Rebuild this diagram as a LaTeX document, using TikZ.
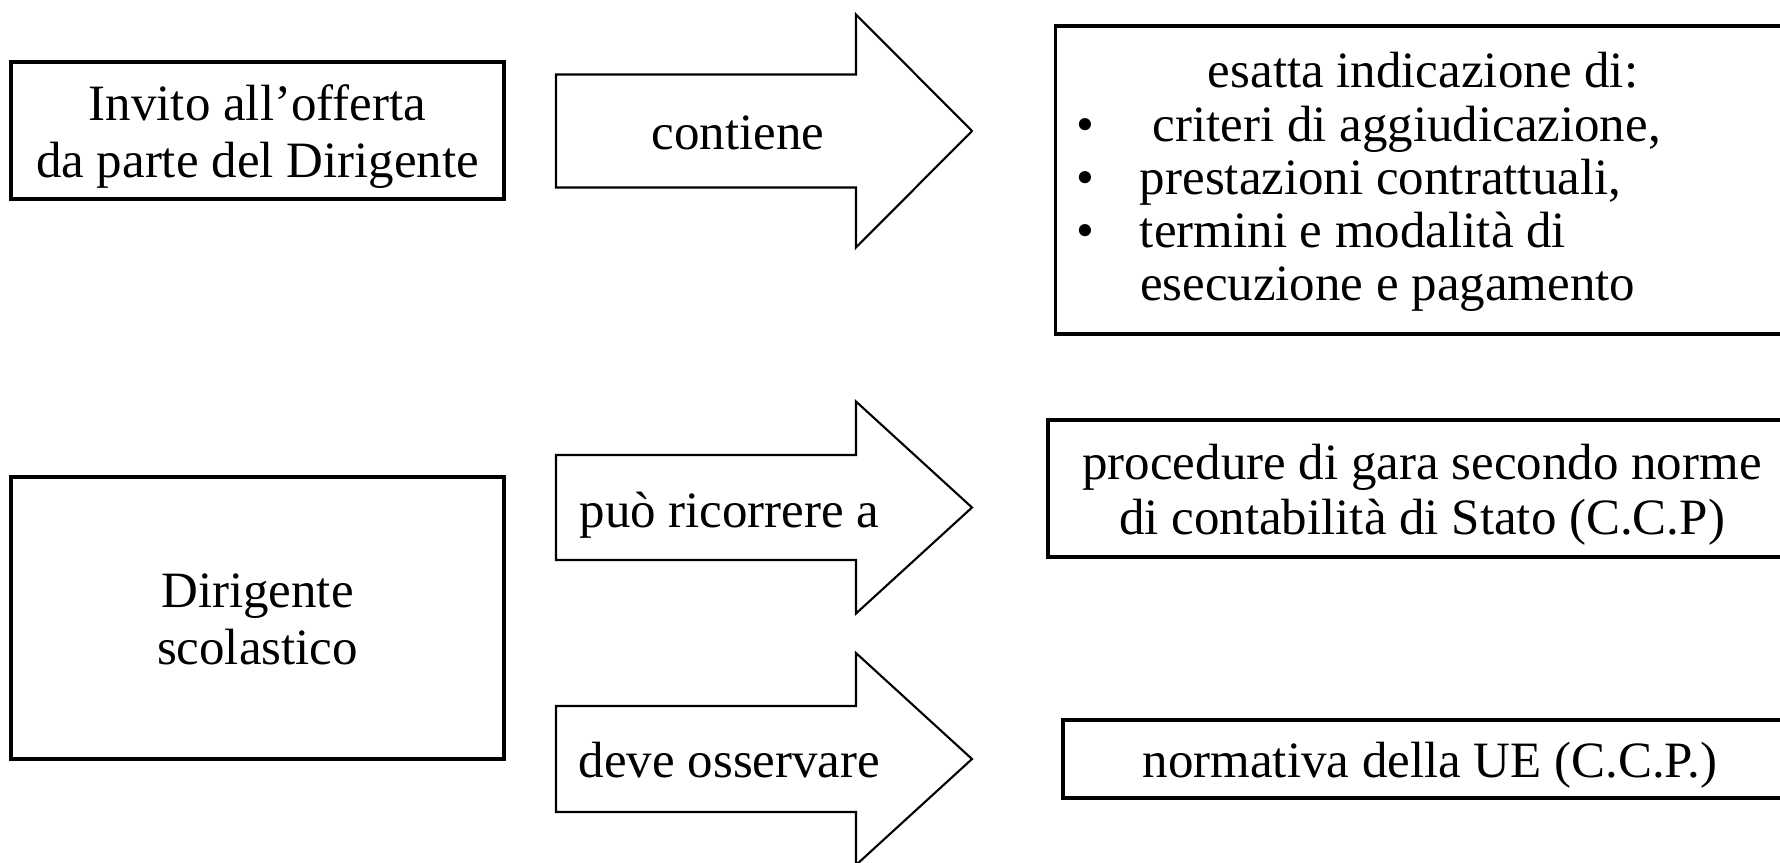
\documentclass[tikz,border=0pt]{standalone}
\usepackage{fontspec}
\setmainfont{Liberation Serif}
\usetikzlibrary{positioning}

\begin{document}
\begin{tikzpicture}[every node/.style={outer sep=0pt,font=\fontsize{14.5}{16.2}\selectfont}]
\tikzstyle{box}=[draw,line width=0.9pt,inner sep=0pt]
\tikzstyle{boxtext}=[align=center,inner sep=0pt,yshift=-0.06cm]
\tikzstyle{fat arrow}=[draw,line width=0.6pt,line join=miter]
\clip (0,0) rectangle (17.8,8.62);

% left column
\node (invito) [box,minimum width=4.93cm,minimum height=1.37cm] at (2.575,7.315) {};
\node (invito testo) [boxtext] at (invito) {Invito all’offerta\\da parte del Dirigente};

\node (dirigente) [box,minimum width=4.93cm,minimum height=2.82cm] at (2.575,2.44) {};
\node (dirigente testo) [boxtext,yshift=0.05cm] at (dirigente) {Dirigente\\scolastico};

% block arrows
\coordinate (A1) at (5.56,7.31);
\draw [fat arrow] (A1) ++(0,0.565) -- ++(3.0,0) -- ++(0,0.6) -- ++(1.16,-1.165)
   -- ++(-1.16,-1.165) -- ++(0,0.6) -- ++(-3.0,0) -- cycle;
\node (contiene) [anchor=base] at (7.38,7.13) {contiene};

\coordinate (A2) at (5.56,3.545);
\draw [fat arrow] (A2) ++(0,0.525) -- ++(3.0,0) -- ++(0,0.535) -- ++(1.16,-1.06)
   -- ++(-1.16,-1.06) -- ++(0,0.535) -- ++(-3.0,0) -- cycle;
\node (ricorrere) [anchor=base] at (7.295,3.35) {può ricorrere a};

\coordinate (A3) at (5.56,1.03);
\draw [fat arrow] (A3) ++(0,0.53) -- ++(3.0,0) -- ++(0,0.53) -- ++(1.16,-1.06)
   -- ++(-1.16,-1.06) -- ++(0,0.53) -- ++(-3.0,0) -- cycle;
\node (osservare) [anchor=base] at (7.295,0.85) {deve osservare};

% right column
\node (indicazione) [box,minimum width=7.4cm,minimum height=3.08cm] at (14.255,6.82) {};
\node (titolo) [anchor=base] at (14.23,7.75) {esatta indicazione di:};
\node (elenco) [anchor=base west,inner sep=0pt] at (10.76,7.21) {%
   \fontsize{14.5}{15.1}\selectfont
   \begin{tabular}[t]{@{}p{0.64cm}@{}l@{}}
   \textbullet & \ criteri di aggiudicazione,\\
   \textbullet & prestazioni contrattuali,\\
   \textbullet & termini e modalità di\\
               & esecuzione e pagamento
   \end{tabular}};

\node (procedure) [box,minimum width=7.48cm,minimum height=1.37cm] at (14.22,3.735) {};
\node (procedure testo) [boxtext,font=\fontsize{14.5}{15.6}\selectfont] at (procedure)
   {procedure di gara secondo norme\\di contabilità di Stato (C.C.P)};

\node (normativa) [box,minimum width=7.34cm,minimum height=0.78cm] at (14.30,1.03) {};
\node (normativa testo) [boxtext] at (normativa) {normativa della UE (C.C.P.)};

\end{tikzpicture}
\end{document}
